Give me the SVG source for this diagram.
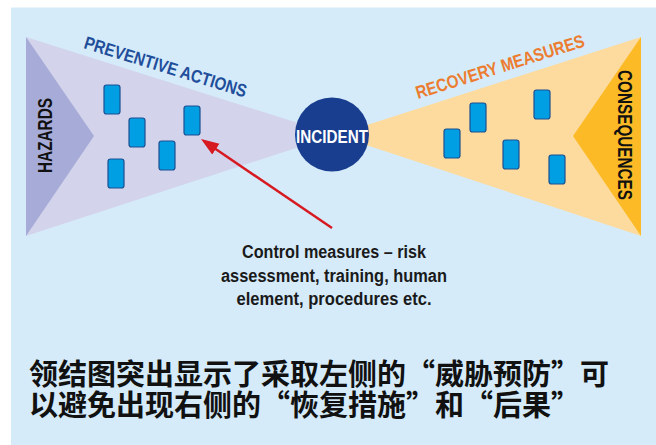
<svg xmlns="http://www.w3.org/2000/svg" width="656" height="445" viewBox="0 0 656 445">
  <defs>
    <style>
      .label { font-family: "Liberation Sans Narrow", "Liberation Sans", Arial, sans-serif; }
      .box { fill: #009fe3; stroke: #1d4f91; stroke-width: 1.2; }
      .note { font-family: "Liberation Sans Narrow", "Liberation Sans", Arial, sans-serif; font-size: 18px; font-weight: bold; fill: #1a1a1a; text-anchor: middle; }
      .caption { font-family: "Noto Sans CJK SC", "Noto Sans CJK TC", sans-serif; font-size: 29px; font-weight: bold; fill: #111; }
    </style>
    <marker id="arrowhead" markerUnits="userSpaceOnUse" markerWidth="20" markerHeight="14" refX="14" refY="6.5" orient="auto">
      <path d="M0,0 L18,6.5 L0,13 Z" fill="#d71920"/>
    </marker>
  </defs>

  <!-- backdrop -->
  <rect x="0" y="0" width="656" height="445" fill="#ffffff"/>
  <rect x="11" y="7.5" width="645" height="437.5" fill="#d5ebfa"/>

  <!-- hazards side: threat wedge -->
  <g id="preventive-actions">
    <polygon points="26,37 26,236 336,135" fill="#d3d4ec"/>
    <text class="label" x="83" y="48" transform="rotate(17 83 48)" font-size="18" font-weight="bold" fill="#1f4e9a" textLength="169" lengthAdjust="spacingAndGlyphs">PREVENTIVE ACTIONS</text>
  </g>
  <g id="hazards">
    <polygon points="26,37 26,236 94,136" fill="#a7abd7"/>
    <text class="label" transform="translate(52 135.5) rotate(-90)" x="0" y="0" text-anchor="middle" font-size="21" font-weight="bold" fill="#111" textLength="75" lengthAdjust="spacingAndGlyphs">HAZARDS</text>
  </g>

  <!-- consequences side: recovery wedge -->
  <g id="recovery-measures">
    <polygon points="641,37 641,236 336,135" fill="#fddb9e"/>
    <text class="label" x="418" y="99" transform="rotate(-17.5 418 99)" font-size="18" font-weight="bold" fill="#ec7d30" textLength="176" lengthAdjust="spacingAndGlyphs">RECOVERY MEASURES</text>
  </g>
  <g id="consequences">
    <polygon points="641,37 641,236 573,136" fill="#fbba26"/>
    <text class="label" transform="translate(618 135) rotate(90)" x="0" y="0" text-anchor="middle" font-size="20" font-weight="bold" fill="#111" textLength="130" lengthAdjust="spacingAndGlyphs">CONSEQUENCES</text>
  </g>

  <!-- barriers -->
  <g id="preventive-barriers">
    <rect class="box" x="104" y="85" width="16" height="29" rx="2.5"/>
    <rect class="box" x="129" y="118" width="16" height="29" rx="2.5"/>
    <rect class="box" x="108" y="159" width="16" height="29" rx="2.5"/>
    <rect class="box" x="159" y="141" width="16" height="29" rx="2.5"/>
    <rect class="box" x="184" y="106" width="16" height="29" rx="2.5"/>
  </g>
  <g id="recovery-barriers">
    <rect class="box" x="444" y="129" width="16" height="29" rx="2.5"/>
    <rect class="box" x="470" y="103" width="16" height="29" rx="2.5"/>
    <rect class="box" x="503" y="140" width="16" height="29" rx="2.5"/>
    <rect class="box" x="534" y="90" width="16" height="29" rx="2.5"/>
    <rect class="box" x="549" y="155" width="16" height="29" rx="2.5"/>
  </g>

  <!-- central event -->
  <g id="incident">
    <circle cx="332" cy="134.5" r="37" fill="#1a3e8f"/>
    <text class="label" x="332" y="143" text-anchor="middle" font-size="19" font-weight="bold" fill="#ffffff" textLength="72" lengthAdjust="spacingAndGlyphs">INCIDENT</text>
  </g>

  <!-- pointer from the note to a barrier -->
  <g id="connectors">
    <line x1="332" y1="228" x2="204.3" y2="141.3" stroke="#d71920" stroke-width="2.5" marker-end="url(#arrowhead)"/>
  </g>

  <g id="control-note">
    <text class="note" x="334" y="258" textLength="184" lengthAdjust="spacingAndGlyphs">Control measures – risk</text>
    <text class="note" x="334" y="282" textLength="226" lengthAdjust="spacingAndGlyphs">assessment, training, human</text>
    <text class="note" x="334" y="305" textLength="195" lengthAdjust="spacingAndGlyphs">element, procedures etc.</text>
  </g>

  <g id="caption">
    <text class="caption"><tspan x="29" y="385">领结图突出显示了采取左侧的“威胁预防”可</tspan><tspan x="29" y="416">以避免出现右侧的“恢复措施”和“后果”</tspan></text>
  </g>
</svg>
